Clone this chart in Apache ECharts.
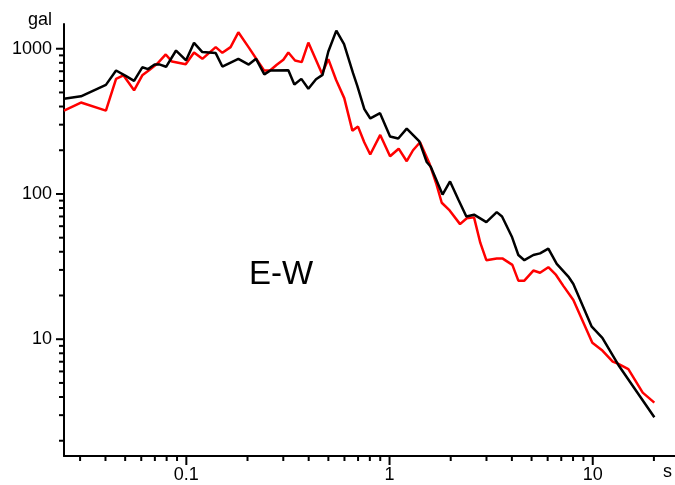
<!DOCTYPE html>
<html>
<head>
<meta charset="utf-8">
<title>E-W response spectrum</title>
<script src="https://cdn.jsdelivr.net/npm/echarts@6/dist/echarts.min.js"></script>
<style>
  html, body { margin: 0; padding: 0; background: #fff; }
  #chart { width: 675px; height: 485px; }
</style>
</head>
<body>
<div id="chart"></div>
<script>
// Period (s) and spectral acceleration (gal), black trace
const periodsBlack = [0.025, 0.0303, 0.0402, 0.0451, 0.0503, 0.0553, 0.0607, 0.0648, 0.0698, 0.0742,
  0.0795, 0.089, 0.0997, 0.1091, 0.1199, 0.1395, 0.1504, 0.1803, 0.2028, 0.2203,
  0.242, 0.2582, 0.3177, 0.3401, 0.3681, 0.3985, 0.4347, 0.468, 0.4998, 0.5472,
  0.5972, 0.6613, 0.694, 0.7516, 0.8044, 0.8981, 1.006, 1.104, 1.215, 1.402,
  1.524, 1.595, 1.823, 1.985, 2.186, 2.388, 2.605, 2.995, 3.37, 3.578,
  3.995, 4.304, 4.608, 5.102, 5.504, 6.046, 6.65, 7.584, 8.027, 9.888,
  11.15, 13.37, 20.1];
const accelBlack = [452, 470, 564, 708, 651, 601, 745, 724, 778, 778,
  751, 972, 832, 1098, 948, 933, 754, 852, 778, 852,
  666, 707, 712, 567, 620, 530, 617, 661, 957, 1332,
  1076, 679, 555, 384, 331, 360, 249, 241, 282, 230,
  166, 154, 99, 122, 91, 70, 72, 64, 75, 70,
  51, 38, 35, 38, 39, 42, 33, 27, 24, 12.2,
  10.2, 6.65, 2.9];

// Period (s) and spectral acceleration (gal), red trace
const periodsRed = [0.025, 0.0303, 0.0402, 0.0451, 0.049, 0.0553, 0.0607, 0.0655, 0.0718, 0.0792,
  0.085, 0.0993, 0.1091, 0.1199, 0.1395, 0.1504, 0.1651, 0.1803, 0.2035, 0.2412,
  0.2582, 0.2786, 0.3002, 0.3177, 0.3427, 0.3698, 0.3985, 0.4654, 0.4998, 0.5453,
  0.5986, 0.6561, 0.6998, 0.7508, 0.8035, 0.9, 1.006, 1.109, 1.215, 1.305,
  1.413, 1.57, 1.694, 1.807, 1.976, 2.223, 2.399, 2.605, 2.798, 2.995,
  3.37, 3.591, 4.022, 4.304, 4.608, 5.102, 5.504, 6.046, 6.598, 7.166,
  8.027, 9.954, 11.07, 12.54, 13.37, 14.97, 17.62, 20.1];
const accelRed = [375, 426, 375, 620, 656, 517, 656, 710, 787, 913,
  816, 781, 942, 852, 1026, 937, 1026, 1297, 1014, 708,
  708, 775, 839, 942, 829, 809, 1103, 672, 848, 611,
  457, 273, 291, 227, 187, 255, 182, 205, 168, 200,
  227, 163, 119, 87, 77, 62, 68, 69, 46, 35,
  36, 36, 32.5, 25.3, 25.3, 29.7, 28.7, 31.3, 27.7, 23.3,
  18.6, 9.47, 8.44, 7.01, 6.76, 6.22, 4.29, 3.66];

// Log-axis tick positions
const xMajorTicks = [0.1, 1, 10];
const xMinorTicks = [0.03, 0.04, 0.05, 0.06, 0.07, 0.08, 0.09,
  0.2, 0.3, 0.4, 0.5, 0.6, 0.7, 0.8, 0.9,
  2, 3, 4, 5, 6, 7, 8, 9, 20];
const yMajorTicks = [10, 100, 1000];
const yMinorTicks = [2, 3, 4, 5, 6, 7, 8, 9,
  20, 30, 40, 50, 60, 70, 80, 90,
  200, 300, 400, 500, 600, 700, 800, 900];

const X_MIN = 0.025, X_MAX = 25.4;
const Y_MIN = 1.57, Y_MAX = 1480;
const FONT = '"Liberation Sans", Arial, sans-serif';

const pair = (xs, ys) => xs.map((x, i) => [x, ys[i]]);

function isDecade(v) {
  const l = Math.log10(v);
  return Math.abs(l - Math.round(l)) < 1e-6;
}

// Short outward tick marks drawn through the axis scales
function tickSeries(values, axis, len) {
  return {
    type: 'custom',
    silent: true,
    clip: false,
    animation: false,
    z: 4,
    data: values.map(v => axis === 'x' ? [v, Y_MIN] : [X_MIN, v]),
    renderItem: (params, api) => {
      const p = api.coord([api.value(0), api.value(1)]);
      const dx = axis === 'x' ? 0 : -len;
      const dy = axis === 'x' ? len : 0;
      return {
        type: 'line',
        shape: { x1: p[0], y1: p[1], x2: p[0] + dx, y2: p[1] + dy },
        style: { stroke: '#000', lineWidth: 2 }
      };
    }
  };
}

const chart = echarts.init(document.getElementById('chart'), null, { renderer: 'canvas' });

chart.setOption({
  backgroundColor: '#fff',
  animation: false,
  grid: { left: 64, top: 24, right: 0, bottom: 29, containLabel: false },
  xAxis: {
    type: 'log',
    logBase: 10,
    min: X_MIN,
    max: X_MAX,
    splitLine: { show: false },
    axisTick: { show: false },
    minorTick: { show: false },
    axisLine: { show: true, lineStyle: { color: '#000', width: 2 } },
    axisLabel: {
      margin: 10,
      color: '#000',
      fontFamily: FONT,
      fontSize: 18,
      showMinLabel: false,
      showMaxLabel: false,
      formatter: v => isDecade(v) ? String(Number(v.toPrecision(6))) : ''
    }
  },
  yAxis: {
    type: 'log',
    logBase: 10,
    min: Y_MIN,
    max: Y_MAX,
    splitLine: { show: false },
    axisTick: { show: false },
    minorTick: { show: false },
    axisLine: { show: true, lineStyle: { color: '#000', width: 2 } },
    axisLabel: {
      margin: 12,
      color: '#000',
      fontFamily: FONT,
      fontSize: 18,
      showMinLabel: false,
      showMaxLabel: false,
      formatter: v => isDecade(v) ? String(Math.round(v)) : ''
    }
  },
  graphic: [
    { type: 'text', left: 28, top: 11, style: { text: 'gal', font: '18px ' + FONT, fill: '#000' } },
    { type: 'text', left: 663, top: 463, style: { text: 's', font: '18px ' + FONT, fill: '#000' } },
    { type: 'text', left: 249, top: 258, style: { text: 'E-W', font: '33px ' + FONT, fill: '#000' } }
  ],
  series: [
    {
      name: 'red',
      type: 'line',
      data: pair(periodsRed, accelRed),
      showSymbol: false,
      symbol: 'none',
      lineStyle: { color: '#ff0000', width: 2.5 },
      z: 2
    },
    {
      name: 'black',
      type: 'line',
      data: pair(periodsBlack, accelBlack),
      showSymbol: false,
      symbol: 'none',
      lineStyle: { color: '#000000', width: 2.5 },
      z: 3
    },
    tickSeries(xMajorTicks, 'x', 9),
    tickSeries(xMinorTicks, 'x', 5),
    tickSeries(yMajorTicks, 'y', 8),
    tickSeries(yMinorTicks, 'y', 5)
  ]
});
</script>
</body>
</html>
